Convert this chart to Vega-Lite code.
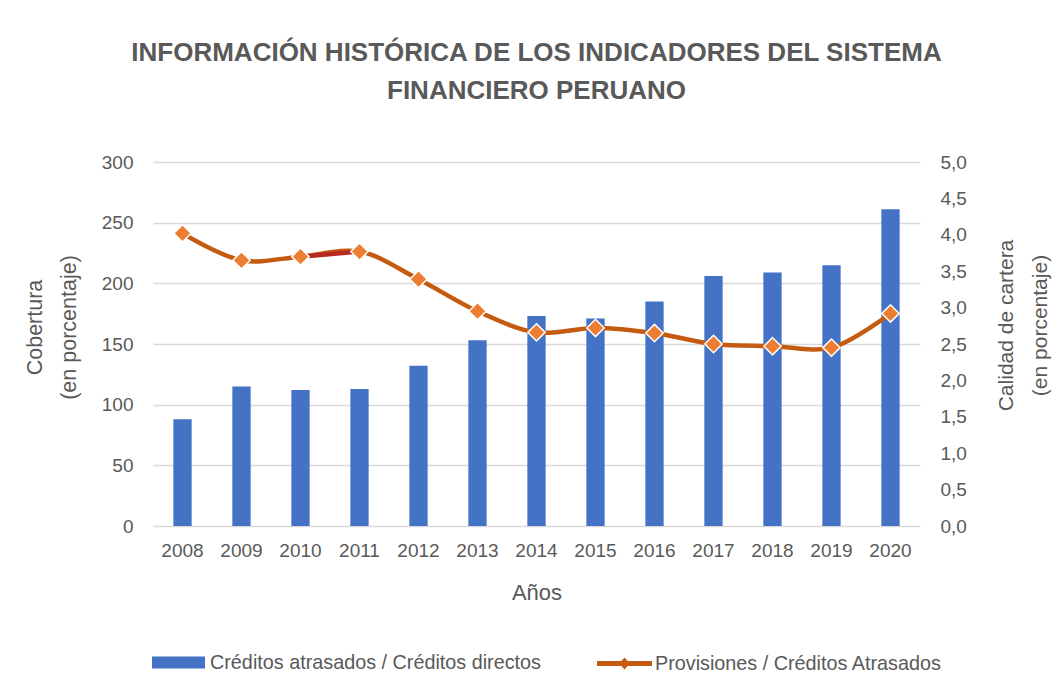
{
  "$schema": "https://vega.github.io/schema/vega-lite/v6.json",
  "autosize": "none",
  "width": 767,
  "height": 364,
  "padding": {"left": 153, "top": 162, "right": 137, "bottom": 169},
  "background": "white",
  "config": {
    "font": "Liberation Sans",
    "view": {"stroke": null}
  },
  "title": {
    "text": ["INFORMACIÓN HISTÓRICA DE LOS INDICADORES DEL SISTEMA", "FINANCIERO PERUANO"],
    "font": "Liberation Sans",
    "fontSize": 26,
    "fontWeight": "bold",
    "color": "#595959",
    "lineHeight": 38,
    "anchor": "middle",
    "offset": 49
  },
  "data": {
    "values": [
      {"year": "2008", "cred": 88, "prov": 4.02},
      {"year": "2009", "cred": 115, "prov": 3.65},
      {"year": "2010", "cred": 112, "prov": 3.70},
      {"year": "2011", "cred": 113, "prov": 3.77},
      {"year": "2012", "cred": 132, "prov": 3.39},
      {"year": "2013", "cred": 153, "prov": 2.95},
      {"year": "2014", "cred": 173, "prov": 2.66},
      {"year": "2015", "cred": 171, "prov": 2.72},
      {"year": "2016", "cred": 185, "prov": 2.65},
      {"year": "2017", "cred": 206, "prov": 2.50},
      {"year": "2018", "cred": 209, "prov": 2.47},
      {"year": "2019", "cred": 215, "prov": 2.45},
      {"year": "2020", "cred": 261, "prov": 2.92}
    ]
  },
  "encoding": {
    "x": {
      "field": "year",
      "type": "ordinal",
      "scale": {"paddingInner": 0, "paddingOuter": 0},
      "axis": {
        "title": "Años",
        "titleFontSize": 22,
        "titleFontWeight": "normal",
        "titleColor": "#595959",
        "titlePadding": 22,
        "labelAngle": 0,
        "labelFontSize": 19,
        "labelColor": "#595959",
        "labelPadding": 15,
        "domain": false,
        "ticks": false,
        "grid": false
      }
    }
  },
  "layer": [
    {
      "mark": {"type": "bar", "width": {"band": 0.31}},
      "encoding": {
        "y": {
          "field": "cred",
          "type": "quantitative",
          "scale": {"domain": [0, 300]},
          "axis": {
            "orient": "left",
            "values": [0, 50, 100, 150, 200, 250, 300],
            "title": ["Cobertura", "(en porcentaje)"],
            "titleFontSize": 21.5,
            "titleFontWeight": "normal",
            "titleColor": "#595959",
            "titlePadding": 21,
            "titleLineHeight": 34,
            "titleY": 165,
            "labelFontSize": 19,
            "labelColor": "#595959",
            "labelPadding": 20,
            "domain": false,
            "ticks": false,
            "grid": true,
            "gridColor": "#D9D9D9",
            "gridWidth": 1.5
          }
        },
        "color": {
          "datum": "Créditos atrasados / Créditos directos",
          "type": "nominal",
          "scale": {"range": ["#4472C4"]},
          "legend": {
            "orient": "none",
            "legendX": -1,
            "legendY": 474,
            "title": null,
            "symbolType": "M-1,-0.23H1V0.23H-1Z",
            "symbolSize": 2809,
            "symbolStrokeWidth": 0,
            "labelFontSize": 19.8,
            "labelColor": "#595959",
            "labelOffset": 5,
            "labelLimit": 500
          }
        }
      }
    },
    {
      "encoding": {
        "y": {
          "field": "prov",
          "type": "quantitative",
          "scale": {"domain": [0, 5]},
          "axis": {
            "orient": "right",
            "values": [0, 0.5, 1, 1.5, 2, 2.5, 3, 3.5, 4, 4.5, 5],
            "labelExpr": "replace(format(datum.value, '.1f'), '.', ',')",
            "title": ["Calidad de cartera", "(en porcentaje)"],
            "titleAngle": 270,
            "titleFontSize": 21,
            "titleFontWeight": "normal",
            "titleColor": "#595959",
            "titlePadding": 16,
            "titleLineHeight": 34,
            "titleY": 163,
            "labelFontSize": 19,
            "labelColor": "#595959",
            "labelPadding": 20,
            "domain": false,
            "ticks": false,
            "grid": false
          }
        }
      },
      "layer": [
        {
          "mark": {"type": "line", "interpolate": "catmull-rom", "strokeWidth": 4.5},
          "encoding": {
            "stroke": {
              "datum": "Provisiones / Créditos Atrasados",
              "type": "nominal",
              "scale": {"range": ["#C55A11"]},
              "legend": {
                "orient": "none",
                "legendX": 444,
                "legendY": 474,
                "title": null,
                "symbolType": "M-1,-0.09H1V0.09H-1Z M0,-0.22L0.2,0L0,0.22L-0.2,0Z",
                "symbolSize": 3025,
                "labelFontSize": 19.8,
                "labelColor": "#595959",
                "labelOffset": 3,
                "labelLimit": 500,
                "encode": {
                  "symbols": {
                    "update": {
                      "fill": {"value": "#C55A11"},
                      "strokeWidth": {"value": 0}
                    }
                  }
                }
              }
            }
          }
        },
        {
          "transform": [{"filter": "datum.year == '2010' || datum.year == '2011'"}],
          "mark": {"type": "line", "interpolate": "catmull-rom", "strokeWidth": 4.5, "color": "#B8291F"},
          "encoding": {}
        },
        {
          "mark": {"type": "point", "shape": "diamond", "size": 300, "filled": true, "fill": "#ED7D31", "stroke": "white", "strokeWidth": 1.5, "opacity": 1},
          "encoding": {}
        }
      ]
    }
  ],
  "resolve": {"scale": {"y": "independent"}}
}
